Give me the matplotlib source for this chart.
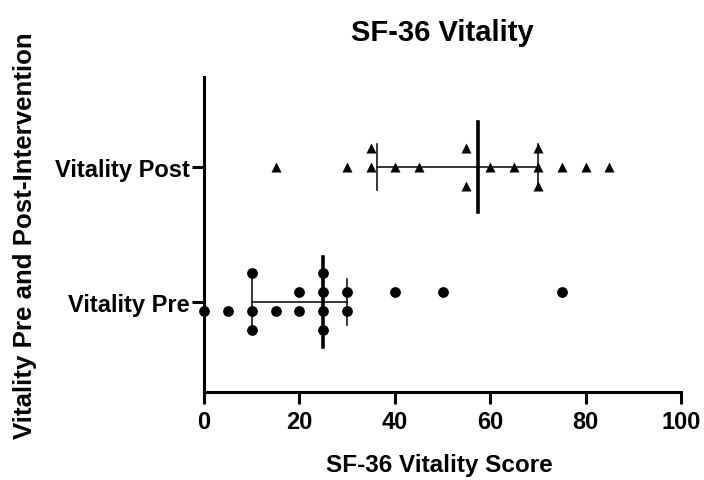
import numpy as np
import matplotlib
matplotlib.use('Agg')
import matplotlib.pyplot as plt

plt.rcParams['font.family'] = ['Liberation Sans', 'DejaVu Sans']
plt.rcParams['font.weight'] = 'bold'

# data
categories = ['Vitality Pre', 'Vitality Post']
pre_scores = [0, 5, 10, 10, 10, 15, 20, 20, 25, 25, 25, 25, 30, 30, 40, 50, 75]
post_scores = [15, 30, 35, 35, 40, 45, 55, 55, 60, 65, 70, 70, 70, 75, 80, 85]
# stacking row of each point within its column (Prism scatter layout)
pre_rows = [-0.5, -0.5, 1.5, -0.5, -1.5, -0.5, 0.5, -0.5, 1.5, 0.5, -0.5, -1.5, 0.5, -0.5, 0.5, 0.5, 0.5]
post_rows = [0, 0, 1, 0, 0, 0, 1, -1, 0, 0, 1, 0, -1, 0, 0, 0]

x_ticks = [0, 20, 40, 60, 80, 100]

row_step = 0.1407      # vertical spacing between stacked points
med_half = 0.33        # half length of median bar
cap_half = 0.167       # half length of quartile caps

fig = plt.figure(figsize=(7.04, 4.81), dpi=100)
ax = fig.add_axes([204 / 704, 88 / 481, 477 / 704, 315 / 481])

groups = [(pre_scores, pre_rows, 'o', 60), (post_scores, post_rows, '^', 52)]
for i, (vals, rows, mk, sz) in enumerate(groups):
    vals = np.array(vals, dtype=float)
    q1, med, q3 = np.percentile(vals, [25, 50, 75], method='weibull')
    # quartile bar with caps
    ax.plot([q1, q3], [i, i], color='black', lw=1.1, zorder=2)
    ax.plot([q1, q1], [i - cap_half, i + cap_half], color='black', lw=1.1, zorder=2)
    ax.plot([q3, q3], [i - cap_half, i + cap_half], color='black', lw=1.1, zorder=2)
    # median
    ax.plot([med, med], [i - med_half, i + med_half], color='black', lw=2.6, zorder=2)
    y = i + np.array(rows) * row_step
    ax.scatter(vals, y, marker=mk, s=sz, color='black', linewidths=0, zorder=3,
               clip_on=False)

ax.set_xlim(0, 100)
ax.set_ylim(-0.667, 1.667)
ax.set_xticks(x_ticks)
ax.set_xticklabels([str(t) for t in x_ticks])
ax.set_yticks([0, 1])
ax.set_yticklabels(categories)

for side in ['top', 'right']:
    ax.spines[side].set_visible(False)
for side in ['left', 'bottom']:
    ax.spines[side].set_linewidth(2.2)

ax.tick_params(axis='x', length=8.5, width=2.2, pad=4.5, labelsize=17)
ax.tick_params(axis='y', length=8.5, width=2.2, pad=1.5, labelsize=17)
for lab in ax.get_xticklabels() + ax.get_yticklabels():
    lab.set_fontweight('bold')

fig.text(442 / 704, 1 - 41 / 481, 'SF-36 Vitality', ha='center', va='baseline',
         fontsize=21, fontweight='bold')
fig.text(439 / 704, 1 - 472 / 481, 'SF-36 Vitality Score', ha='center', va='baseline',
         fontsize=17.5, fontweight='bold')
fig.text(25 / 704, 1 - 236 / 481, 'Vitality Pre and Post-Intervention', ha='center',
         va='center', rotation=90, fontsize=18.6, fontweight='bold')

fig.savefig('out.png', dpi=100)
